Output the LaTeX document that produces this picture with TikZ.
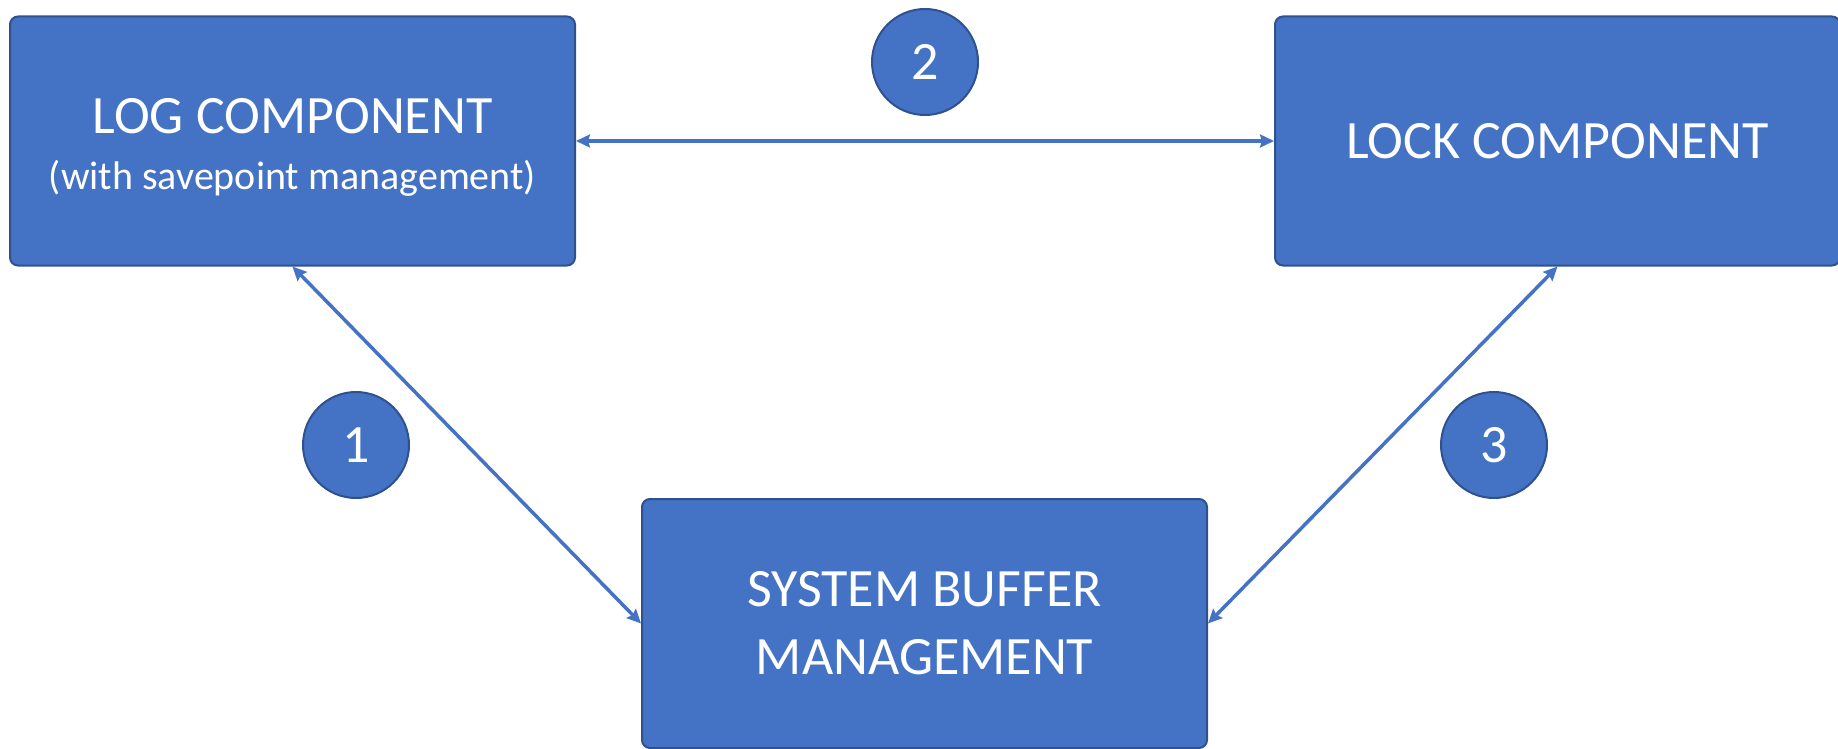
\documentclass[tikz,border=0pt]{standalone}
\usepackage{fontspec}
\setmainfont{Carlito}
\usetikzlibrary{arrows.meta}
\definecolor{boxblue}{HTML}{4472C4}
\definecolor{edgeblue}{HTML}{2F528F}
\tikzset{
  compbox/.style={draw=edgeblue, line width=2pt, fill=boxblue, rounded corners=8pt,
    minimum width=565pt, minimum height=249pt, text=white, align=center, inner sep=0pt},
  numcirc/.style={circle, draw=edgeblue, line width=2pt, fill=boxblue, minimum size=106pt,
    text=white, inner sep=0pt, font=\fontsize{54}{60}\selectfont},
  link/.style={draw=boxblue, line width=3.5pt, {Stealth[length=14pt,width=13pt,inset=2pt]}-{Stealth[length=14pt,width=13pt,inset=2pt]}}
}
\begin{document}
\begin{tikzpicture}[x=1pt,y=-1pt]
\useasboundingbox (0,0) rectangle (1838,749);
\node[compbox, font=\fontsize{54}{56}\selectfont] (log) at (292.5,141) {\rule{0pt}{48pt}LOG COMPONENT\\{\fontsize{40}{56}\selectfont (with savepoint management)}};
\node[compbox, font=\fontsize{54}{66}\selectfont] (lock) at (1557.5,141) {LOCK COMPONENT};
\node[compbox, font=\fontsize{54}{68}\selectfont] (buf) at (924.5,623.5) {SYSTEM BUFFER\\MANAGEMENT};
\node[numcirc] (c2) at (925,62) {2};
\node[numcirc] (c1) at (356,445) {1};
\node[numcirc] (c3) at (1494,445) {3};
\draw[link] (log.east) -- (lock.west);
\draw[link] (log.south) -- (buf.west);
\draw[link] (lock.south) -- (buf.east);
\end{tikzpicture}
\end{document}
